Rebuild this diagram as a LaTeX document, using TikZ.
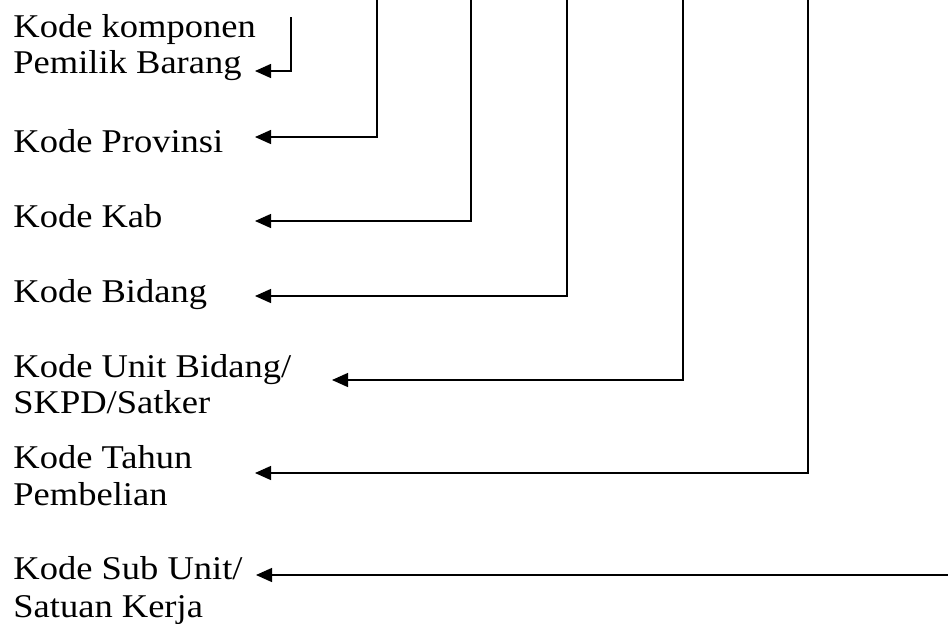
\documentclass[tikz,border=0pt]{standalone}
\usepackage{fontspec}
\setmainfont[FakeStretch=1.1]{Liberation Serif}
\usetikzlibrary{arrows.meta}
\begin{document}
\begin{tikzpicture}[x=0.5pt,y=-0.5pt,
  lbl/.style={anchor=base west,inner sep=0pt,font=\fontsize{16.6pt}{18.5pt}\selectfont},
  conn/.style={line width=0.7pt,-{Triangle[length=8pt,width=7pt]}}]
\useasboundingbox (0,0) rectangle (948,623);
% labels
\node[lbl] (t1a) at (13,37) {Kode komponen};
\node[lbl] (t1b) at (13,73) {Pemilik Barang};
\node[lbl] (t2) at (13,152) {Kode Provinsi};
\node[lbl] (t3) at (13,227) {Kode Kab};
\node[lbl] (t4) at (13,302) {Kode Bidang};
\node[lbl] (t5a) at (13,377) {Kode Unit Bidang/};
\node[lbl] (t5b) at (13,413) {SKPD/Satker};
\node[lbl] (t6a) at (13,468) {Kode Tahun};
\node[lbl] (t6b) at (13,505) {Pembelian};
\node[lbl] (t7a) at (13,579) {Kode Sub Unit/};
\node[lbl] (t7b) at (13,617) {Satuan Kerja};
% connector ends
\coordinate (s1) at (291,17);  \coordinate (e1) at (255,71);
\coordinate (s2) at (377,0);   \coordinate (e2) at (255,137);
\coordinate (s3) at (471,0);   \coordinate (e3) at (255,221);
\coordinate (s4) at (567,0);   \coordinate (e4) at (255,296);
\coordinate (s5) at (683,0);   \coordinate (e5) at (332,380);
\coordinate (s6) at (808,0);   \coordinate (e6) at (255,473);
\coordinate (s7) at (948,575); \coordinate (e7) at (256,575);
% connectors
\draw[conn] (s1) |- (e1);
\draw[conn] (s2) |- (e2);
\draw[conn] (s3) |- (e3);
\draw[conn] (s4) |- (e4);
\draw[conn] (s5) |- (e5);
\draw[conn] (s6) |- (e6);
\draw[conn] (s7) -- (e7);
\end{tikzpicture}
\end{document}
